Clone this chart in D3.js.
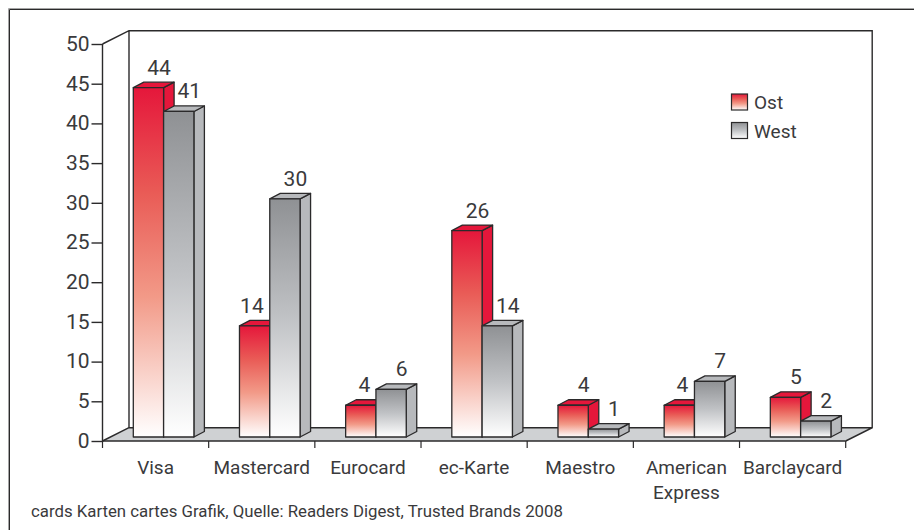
<!DOCTYPE html>
<html>
<head>
<meta charset="utf-8">
<script src="https://cdn.jsdelivr.net/npm/d3@7"></script>
<style>
html,body{margin:0;padding:0;background:#fff}
svg{display:block}
text{font-family:Roboto,"Liberation Sans",sans-serif;fill:#3a3a3c}
</style>
</head>
<body>
<svg id="chart" width="914" height="530"></svg>
<script>
const categories = ["Visa","Mastercard","Eurocard","ec-Karte","Maestro","American Express","Barclaycard"];
const ostValues  = [44,14,4,26,4,4,5];
const westValues = [41,30,6,14,1,7,2];
const yTicks = [0,5,10,15,20,25,30,35,40,45,50];
const sourceNote = "cards Karten cartes Grafik, Quelle: Readers Digest, Trusted Brands 2008";
const seriesNames = ["Ost","West"];

const ink = "#2b2a2b";
const svg = d3.select("#chart");

// Front plane of the 3D plot and the offset of its back wall
const x = d3.scaleBand().domain(categories).range([102.5,845.7]);
const y = d3.scaleLinear().domain([0,50]).range([441,44]);
const wallDx = 26.5, wallDy = 13.3;
// Bars stand a little behind the front edge of the floor
const barDy = -4;
const depthX = 10.5, depthY = 5.5;
const barInset = 30.8, barW = 30.3;

const defs = svg.append("defs");
function fade(id, stops){
  const g = defs.append("linearGradient").attr("id",id).attr("x1",0).attr("x2",0).attr("y1",0).attr("y2",1);
  stops.forEach(([o,c])=>g.append("stop").attr("offset",o).attr("stop-color",c));
}
fade("gradOst",[[0,"#e5173b"],[0.3,"#e95b56"],[0.6,"#f29a88"],[1,"#ffffff"]]);
fade("gradWest",[[0,"#8f9194"],[0.5,"#c0c2c5"],[1,"#ffffff"]]);
const sideColor = {Ost:"#e5173b",West:"#b7b9bc"};

// Outer frame: open towards the right and bottom page edges
svg.append("path").attr("d","M914,8.5H8.5V530").attr("fill","none").attr("stroke","#a5a5a5").attr("stroke-width",1);
svg.append("path").attr("d","M914,9.5H9.5V530").attr("fill","none").attr("stroke",ink).attr("stroke-width",1);

// Floor
const poly = pts => pts.map(p=>p.join(",")).join(" ");
const [x0,x1] = x.range();
const base = y(0), topY = y(50);
svg.append("polygon")
  .attr("points",poly([[x0,base],[x0+wallDx,base-wallDy],[x1+wallDx,base-wallDy],[x1,base]]))
  .attr("fill","#cfd1d3");

// Back wall and side wall edges
svg.append("path")
  .attr("d",`M${x0},${topY}L${x0+wallDx},${topY-wallDy}H${x1+wallDx}V${base-wallDy}L${x1},${base}`
    +`M${x0+wallDx},${topY-wallDy}V${base-wallDy}H${x1+wallDx}`
    +`M${x0},${base}L${x0+wallDx},${base-wallDy}`)
  .attr("fill","none").attr("stroke",ink).attr("stroke-width",1.4);

// Value axis
const yAxis = svg.append("g").attr("transform",`translate(${x0},0)`)
  .call(d3.axisLeft(y).tickValues(yTicks).tickSize(11).tickPadding(2).tickFormat(d3.format("d")));
yAxis.selectAll("path,line").attr("stroke",ink).attr("stroke-width",1.4);
yAxis.select("path").attr("d",`M0,${topY}V${base}`);
yAxis.selectAll("text").attr("font-size",21).attr("font-family",'Roboto,"Liberation Sans",sans-serif')
  .attr("fill","#3a3a3c").attr("dy","0.3em");

// Category axis
const xEdges = categories.map(c=>x(c)).concat([x1]);
svg.append("line").attr("x1",x0).attr("x2",x1).attr("y1",base).attr("y2",base)
  .attr("stroke",ink).attr("stroke-width",1.6);
svg.selectAll(".xtick").data(xEdges).join("line").attr("class","xtick")
  .attr("x1",d=>d).attr("x2",d=>d).attr("y1",base).attr("y2",base+7)
  .attr("stroke",ink).attr("stroke-width",1.2);
const catLabels = svg.selectAll(".cat").data(categories).join("text").attr("class","cat")
  .attr("text-anchor","middle").attr("font-size",19);
catLabels.each(function(d){
  d.split(" ").forEach((w,i)=>d3.select(this).append("tspan")
    .attr("x",x(d)+x.bandwidth()/2).attr("y",474+i*25).text(w));
});

// Draws one 3D bar: side, top, then the gradient front
function drawBar(series, left, value){
  const b = base+barDy, t = y(value)+barDy, r = left+barW;
  const g = svg.append("g").attr("stroke",ink).attr("stroke-width",1.3).attr("stroke-linejoin","round");
  g.append("polygon").attr("fill",sideColor[series])
    .attr("points",poly([[r,b],[r+depthX,b-depthY],[r+depthX,t-depthY],[r,t]]));
  g.append("polygon").attr("fill",sideColor[series])
    .attr("points",poly([[left,t],[left+depthX,t-depthY],[r+depthX,t-depthY],[r,t]]));
  g.append("rect").attr("x",left).attr("y",t).attr("width",barW).attr("height",b-t)
    .attr("fill",`url(#grad${series})`);
}
function drawLabel(left, value, nudge){
  svg.append("text").attr("text-anchor","middle").attr("font-size",21)
    .attr("x",left+barW/2+depthX+nudge).attr("y",y(value)+barDy-depthY-7.5).text(value);
}
// Ost first so that the west bar covers its neighbour's side face
categories.forEach((c,i)=>{
  const left = x(c)+barInset;
  drawBar("Ost",left,ostValues[i]);
  drawBar("West",left+barW,westValues[i]);
  // An ost label moves left, clear of a taller west bar
  const gap = westValues[i]-ostValues[i];
  drawLabel(left,ostValues[i], gap>0 ? -6-gap*0.45 : 0);
  drawLabel(left+barW,westValues[i],0);
});

// Legend
seriesNames.forEach((n,i)=>{
  const ly = 94+i*28.5;
  svg.append("rect").attr("x",731.5).attr("y",ly).attr("width",16).attr("height",16)
    .attr("fill",`url(#grad${n})`).attr("stroke",ink).attr("stroke-width",1.2);
  svg.append("text").attr("x",754).attr("y",ly+15).attr("font-size",19).text(n);
});

// Source line
svg.append("text").attr("x",31).attr("y",517).attr("font-size",16.8).text(sourceNote);
</script>
</body>
</html>
